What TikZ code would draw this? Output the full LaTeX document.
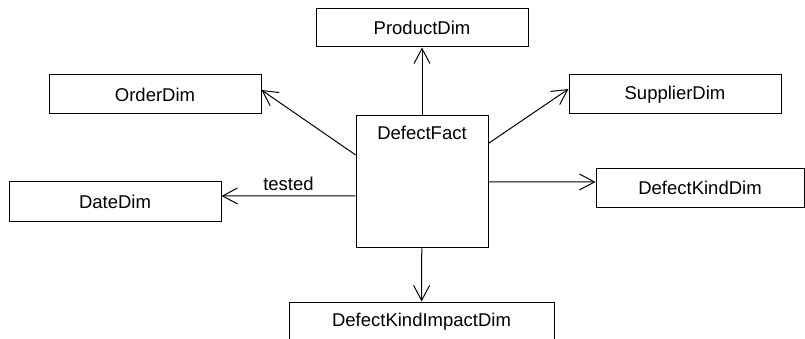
\documentclass[tikz,border=0pt]{standalone}
\usepackage{fontspec}
\setmainfont{Liberation Sans}
\usetikzlibrary{positioning,arrows.meta}

\begin{document}
\begin{tikzpicture}[x=1pt, y=-1pt, line width=1pt, >={Straight Barb[length=15pt,width=16pt]},
    dim/.style={rectangle, draw, inner sep=0pt, minimum width=212pt, minimum height=39pt, font=\fontsize{18.5}{22}\selectfont}]
    \useasboundingbox (0,0) rectangle (805,339);

    \node [dim, minimum width=132pt, minimum height=132pt, inner ysep=10.5pt, text height=13.2pt, text depth=97.8pt] (fact) at (422,181.75) {DefectFact};
    \node [dim, minimum height=38pt] (prod) at (422,28) {ProductDim};
    \node [dim] (order) at (155,94.5) {OrderDim};
    \node [dim] (supp) at (675,94.5) {SupplierDim};
    \node [dim] (date) at (115,201.5) {DateDim};
    \node [dim, minimum width=208pt, minimum height=38pt] (kind) at (700,188) {DefectKindDim};
    \node [dim, minimum width=265pt] (impact) at (421.5,321.5) {DefectKindImpactDim};

    \draw [->] (fact) -- (prod);
    \draw [->] (fact.158) -- ([yshift=4.5pt]order.east);
    \draw [->] (fact.30) -- ([yshift=5.5pt]supp.west);
    \draw [->] ([yshift=-14pt]fact.west) -- node [above, inner sep=5pt, font=\fontsize{18.5}{22}\selectfont] (lbl) {tested} ([yshift=5.5pt]date.east);
    \draw [->] (fact.east) -- ([yshift=6pt]kind.west);
    \draw [->] (fact) -- (impact);
\end{tikzpicture}
\end{document}
